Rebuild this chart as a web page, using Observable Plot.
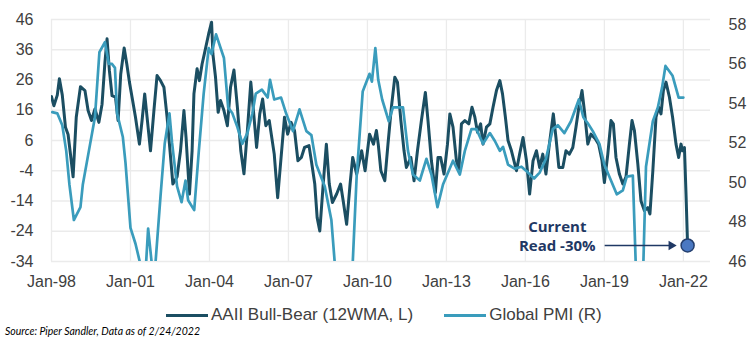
<!DOCTYPE html>
<html>
<head>
<meta charset="utf-8">
<script src="https://cdn.jsdelivr.net/npm/d3@7"></script>
<script src="https://cdn.jsdelivr.net/npm/@observablehq/plot@0.6"></script>
<style>
  body { margin: 0; background: #ffffff; }
  #wrap { position: relative; width: 754px; height: 340px; font-family: "Liberation Sans", Arial, sans-serif; overflow: hidden; }
  #chart svg { display: block; }
  #legend { position: absolute; top: 305px; left: 166px; display: flex; align-items: center; font-size: 17px; color: #404040; white-space: nowrap; }
  .sw { display: inline-block; width: 42px; height: 3px; margin-right: 3px; }
  .item { display: flex; align-items: center; }
  #source { position: absolute; top: 325px; left: 5px; font-family: Lato, "Open Sans", sans-serif; font-style: italic; font-size: 10.5px; color: #000; white-space: nowrap; }
</style>
</head>
<body>
<div id="wrap">
  <div id="chart"></div>
  <div id="legend"></div>
  <div id="source"></div>
</div>
<script>
// ---------- data ----------
const seriesNames = ["AAII Bull-Bear (12WMA, L)", "Global PMI (R)"];
const seriesColors = ["#1b4e62", "#3a9cbc"];
const sourceText = "Source: Piper Sandler, Data as of 2/24/2022";
const annotationLines = ["Current", "Read -30%"];

const xTickYears = [1998, 2001, 2004, 2007, 2010, 2013, 2016, 2019, 2022];
const leftTicks = [-34, -24, -14, -4, 6, 16, 26, 36, 46];
const rightTicks = [46, 48, 50, 52, 54, 56, 58];

// AAII Bull-Bear spread, 12-week moving average (left axis, %)
const aaiiYears = [
  1998.00, 1998.09, 1998.22, 1998.30, 1998.41, 1998.53, 1998.63, 1998.72, 1998.82, 1998.94,
  1999.10, 1999.27, 1999.39, 1999.52, 1999.65, 1999.80, 1999.92, 2000.03, 2000.11, 2000.20,
  2000.30, 2000.43, 2000.53, 2000.63, 2000.76, 2000.86, 2000.96, 2001.06, 2001.19, 2001.34,
  2001.44, 2001.54, 2001.63, 2001.76, 2001.89, 2002.01, 2002.14, 2002.27, 2002.39, 2002.48,
  2002.61, 2002.77, 2002.90, 2003.03, 2003.11, 2003.24, 2003.34, 2003.41, 2003.53, 2003.62,
  2003.72, 2003.82, 2003.97, 2004.08, 2004.13, 2004.23, 2004.33, 2004.42, 2004.55, 2004.68,
  2004.80, 2004.93, 2005.06, 2005.19, 2005.31, 2005.44, 2005.57, 2005.67, 2005.79, 2005.91,
  2006.02, 2006.14, 2006.27, 2006.46, 2006.59, 2006.72, 2006.85, 2006.97, 2007.10, 2007.23,
  2007.36, 2007.49, 2007.61, 2007.78, 2007.87, 2008.00, 2008.09, 2008.19, 2008.32, 2008.44,
  2008.55, 2008.67, 2008.83, 2008.98, 2009.08, 2009.21, 2009.34, 2009.44, 2009.59, 2009.78,
  2009.91, 2010.08, 2010.23, 2010.34, 2010.41, 2010.51, 2010.66, 2010.78, 2010.91, 2011.04,
  2011.14, 2011.27, 2011.39, 2011.48, 2011.65, 2011.77, 2011.90, 2012.05, 2012.20, 2012.30,
  2012.43, 2012.58, 2012.68, 2012.78, 2012.91, 2013.04, 2013.13, 2013.25, 2013.38, 2013.47,
  2013.57, 2013.70, 2013.85, 2013.97, 2014.08, 2014.18, 2014.30, 2014.39, 2014.52, 2014.65,
  2014.77, 2014.90, 2015.03, 2015.13, 2015.24, 2015.34, 2015.47, 2015.66, 2015.78, 2015.91,
  2016.04, 2016.16, 2016.29, 2016.42, 2016.54, 2016.66, 2016.78, 2016.91, 2017.06, 2017.16,
  2017.27, 2017.42, 2017.54, 2017.67, 2017.80, 2017.92, 2018.03, 2018.15, 2018.24, 2018.37,
  2018.49, 2018.66, 2018.78, 2018.91, 2019.00, 2019.13, 2019.25, 2019.34, 2019.44, 2019.57,
  2019.70, 2019.82, 2019.95, 2020.05, 2020.14, 2020.27, 2020.39, 2020.52, 2020.65, 2020.73,
  2020.84, 2020.96, 2021.06, 2021.15, 2021.24, 2021.34, 2021.47, 2021.59, 2021.72, 2021.82,
  2021.91, 2021.97, 2022.04, 2022.10, 2022.16
];
const aaiiValues = [
  20.5, 17.5, 21.0, 26.4, 21.0, 10.4, 8.0, 1.5, -6.0, 13.7,
  23.8, 22.5, 15.9, 12.6, 16.4, 12.0, 18.0, 31.9, 39.6, 29.0,
  20.8, 20.3, 12.6, 28.0, 36.6, 31.3, 25.3, 20.3, 13.7, 4.8,
  12.6, 21.4, 13.7, 2.6, 15.9, 27.5, 25.8, 23.6, 13.7, 4.8,
  -8.4, -6.0, 2.6, 15.9, 7.0, -11.7, 2.6, 21.4, 29.7, 25.8,
  31.3, 35.2, 41.3, 45.1, 34.6, 26.9, 15.3, 19.2, 15.9, 10.9,
  23.6, 29.3, 17.0, 2.6, -5.0, 9.3, 25.3, 15.9, 3.7, 14.8,
  19.7, 10.9, 12.6, 1.5, -12.9, 0.4, 13.7, 8.1, 12.0, 9.3,
  -0.7, 0.4, 3.7, 4.3, -0.7, -8.4, -19.5, -23.9, -8.4, 4.8,
  -8.4, -14.5, -11.7, -8.4, -14.0, -21.7, -8.4, 0.4, -5.1, 2.6,
  -4.0, 8.1, 4.8, 9.3, 4.8, -4.0, -7.3, 4.8, 17.0, 26.9,
  25.3, 12.6, 2.6, -2.9, 0.4, -7.3, 2.6, 12.6, 21.9, 12.6,
  -0.7, -11.2, 0.4, 0.4, -5.1, 4.8, 14.8, 10.4, -0.7, -4.0,
  11.5, 12.6, 11.5, 17.0, 13.7, 8.7, 11.5, 4.8, 10.4, 11.5,
  17.0, 22.5, 25.8, 21.4, 13.7, 6.0, 2.6, -4.0, 1.5, 7.0,
  -0.7, -11.7, -0.7, 2.6, -2.9, 1.5, -5.1, 4.8, 14.8, 7.0,
  -2.9, -2.9, 2.6, 1.5, 3.7, 10.4, 17.0, 22.5, 15.9, 4.8,
  8.1, 6.5, 4.8, -0.7, -7.9, 1.5, 12.6, 11.5, 0.4, -5.1,
  -8.4, -6.0, 4.8, 12.6, 9.3, -1.8, -14.0, -17.2, -16.2, -18.3,
  -4.0, 13.7, 17.0, 14.8, 22.5, 25.3, 20.3, 13.7, 4.8, 0.4,
  4.8, 2.6, 3.7, -11.7, -28.7
];

// Global manufacturing PMI (right axis)
const pmiYears = [
  1998.03, 1998.22, 1998.41, 1998.56, 1998.68, 1998.85, 1999.10, 1999.19, 1999.42, 1999.65,
  1999.82, 2000.03, 2000.18, 2000.30, 2000.41, 2000.49, 2000.71, 2000.81, 2001.00, 2001.19,
  2001.44, 2001.57, 2001.67, 2001.80, 2001.92, 2002.14, 2002.30, 2002.48, 2002.58, 2002.77,
  2002.94, 2003.09, 2003.19, 2003.42, 2003.59, 2003.78, 2003.97, 2004.08, 2004.25, 2004.55,
  2004.71, 2004.87, 2005.06, 2005.25, 2005.44, 2005.63, 2005.76, 2005.99, 2006.21, 2006.30,
  2006.46, 2006.72, 2006.91, 2007.17, 2007.42, 2007.68, 2007.87, 2008.06, 2008.38, 2008.63,
  2008.76, 2008.95, 2009.10, 2009.28, 2009.44, 2009.59, 2009.82, 2010.08, 2010.17, 2010.30,
  2010.41, 2010.56, 2010.81, 2010.97, 2011.35, 2011.54, 2011.73, 2011.99, 2012.24, 2012.43,
  2012.66, 2012.87, 2013.25, 2013.51, 2013.70, 2013.95, 2014.14, 2014.39, 2014.65, 2014.84,
  2015.03, 2015.15, 2015.34, 2015.59, 2015.85, 2016.10, 2016.33, 2016.54, 2016.78, 2017.04,
  2017.23, 2017.48, 2017.73, 2018.03, 2018.20, 2018.37, 2018.56, 2018.81, 2019.00, 2019.25,
  2019.47, 2019.70, 2019.85, 2020.08, 2020.19, 2020.30, 2020.40, 2020.48, 2020.58, 2020.84,
  2021.03, 2021.19, 2021.32, 2021.59, 2021.82, 2022.00
];
const pmiValues = [
  53.56, 53.5, 52.9, 51.6, 49.9, 48.1, 48.75, 49.9, 51.6, 53.3,
  56.6, 57.1, 56.0, 56.0, 55.8, 53.5, 52.3, 51.0, 47.7, 46.9,
  45.5, 45.4, 47.67, 46.0, 45.4, 49.3, 51.96, 53.5, 52.0, 49.8,
  49.0, 50.1, 49.1, 48.6, 51.5, 54.5, 56.8, 56.5, 57.5, 56.3,
  53.8, 53.5, 52.8, 51.96, 52.5, 53.5, 54.5, 54.7, 54.3, 55.2,
  54.2, 54.3, 53.5, 52.6, 53.7, 52.6, 52.4, 50.9, 49.8, 48.1,
  45.9, 40.0, 36.0, 39.0, 45.9, 50.3, 54.6, 55.5, 55.1, 56.8,
  55.2, 54.2, 53.1, 53.8, 53.8, 51.6, 50.4, 50.1, 51.2, 50.4,
  48.75, 49.9, 51.1, 50.4, 51.6, 52.7, 52.7, 51.96, 52.5, 52.1,
  51.6, 51.8, 50.9, 50.7, 50.8, 50.5, 50.2, 50.5, 51.2, 52.7,
  52.9, 52.5, 53.1, 54.2, 53.3, 53.0, 52.6, 51.96, 50.9, 50.1,
  49.4, 49.6, 50.3, 50.35, 45.9, 40.0, 42.0, 45.9, 50.8, 53.1,
  53.8, 54.8, 55.9, 55.4, 54.3, 54.3
];

// ---------- build tables ----------
const aaii = aaiiYears.map((t, i) => ({year: t, value: aaiiValues[i]}));
const pmi = pmiYears.map((t, i) => ({year: t, value: pmiValues[i]}));

// right axis (PMI) expressed in left-axis units
const leftLo = leftTicks[0], leftHi = leftTicks[leftTicks.length - 1];
const pmiLo = 46, pmiHi = 58.25;
const toLeft = p => leftLo + (p - pmiLo) * (leftHi - leftLo) / (pmiHi - pmiLo);
const fromLeft = v => pmiLo + (v - leftLo) * (pmiHi - pmiLo) / (leftHi - leftLo);

const last = aaii[aaii.length - 1];
const fmtYear = y => "Jan-" + String(y % 100).padStart(2, "0");

const chart = Plot.plot({
  width: 754,
  height: 296,
  marginTop: 19,
  marginBottom: 35,
  marginLeft: 51,
  marginRight: 44,
  style: {fontFamily: "'Liberation Sans', Arial, sans-serif", background: "#fff"},
  x: {domain: [1998, 2023.03], axis: null},
  y: {domain: [leftLo, leftHi], axis: null},
  marks: [
    Plot.gridY(leftTicks, {stroke: "#ebebeb", strokeOpacity: 1, strokeWidth: 1.3}),
    Plot.gridX(xTickYears, {stroke: "#ebebeb", strokeOpacity: 1, strokeWidth: 1.3}),
    Plot.axisX(xTickYears, {label: null, tickSize: 0, tickPadding: 14, tickFormat: fmtYear, fontSize: 16, fill: "#404040"}),
    Plot.axisY(leftTicks, {anchor: "left", label: null, tickSize: 0, tickPadding: 18, tickFormat: d => String(d), fontSize: 16, fill: "#404040"}),
    Plot.axisY(rightTicks.map(toLeft), {anchor: "right", label: null, tickSize: 0, tickPadding: 18, tickFormat: v => String(Math.round(fromLeft(v))), fontSize: 16, fill: "#404040"}),
    Plot.line(aaii, {x: "year", y: "value", stroke: seriesColors[0], strokeWidth: 3, strokeLinejoin: "round", clip: true}),
    Plot.line(pmi, {x: "year", y: d => toLeft(d.value), stroke: seriesColors[1], strokeWidth: 2.7, strokeLinejoin: "round", clip: true}),
    // annotation arrow to the current reading
    Plot.link([last], {x1: d => d.year - 3.15, x2: d => d.year - 0.62, y1: "value", y2: "value", stroke: "#1f3864", strokeWidth: 1.6}),
    Plot.dot([last], {x: d => d.year - 0.62, y: "value", symbol: "triangle2", rotate: 90, r: 4.5, fill: "#1f3864", stroke: "none"}),
    Plot.dot([last], {x: "year", y: "value", r: 6.5, fill: "#4a78c2", stroke: "#243f6e", strokeWidth: 1.5}),
    Plot.text([last], {x: d => d.year - 4.95, y: "value", text: () => annotationLines[0], dy: -18, fontSize: 15, fontWeight: "bold", fill: "#1f3864", fontFamily: "'Open Sans', sans-serif"}),
    Plot.text([last], {x: d => d.year - 4.95, y: "value", text: () => annotationLines[1], dy: 1, fontSize: 15, fontWeight: "bold", fill: "#1f3864", fontFamily: "'Open Sans', sans-serif"})
  ]
});
document.getElementById("chart").appendChild(chart);

// legend
const legend = document.getElementById("legend");
seriesNames.forEach((name, i) => {
  const item = document.createElement("div");
  item.className = "item";
  if (i > 0) item.style.marginLeft = "31px";
  const sw = document.createElement("span");
  sw.className = "sw";
  sw.style.background = seriesColors[i];
  const label = document.createElement("span");
  label.textContent = name;
  item.appendChild(sw);
  item.appendChild(label);
  legend.appendChild(item);
});
document.getElementById("source").textContent = sourceText;
</script>
</body>
</html>
